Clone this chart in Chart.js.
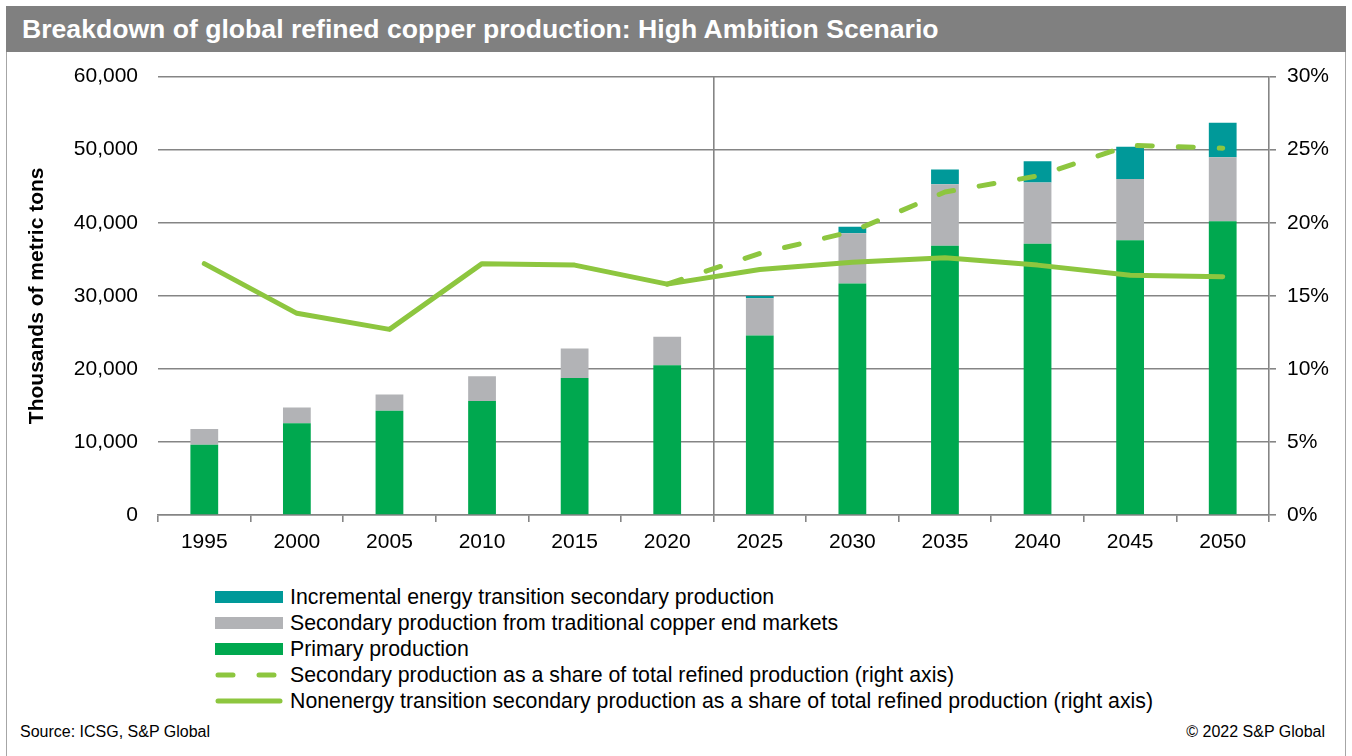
<!DOCTYPE html>
<html>
<head>
<meta charset="utf-8">
<script src="https://cdn.jsdelivr.net/npm/chart.js@4.4.1/dist/chart.umd.min.js"></script>
<style>
  html, body { margin: 0; padding: 0; background: #fff; }
  body { width: 1352px; height: 756px; position: relative; overflow: hidden;
         font-family: Arial, "Liberation Sans", sans-serif; color: #000; }
  #frame { position: absolute; left: 6px; top: 6px; width: 1338px; height: 760px;
           border-left: 1px solid #a6a6a6; border-right: 1px solid #a6a6a6; }
  #titleBar { position: absolute; left: 6px; top: 6px; width: 1340px; height: 46px; z-index: 2;
              background: #808080; color: #fff; font-weight: bold; font-size: 26.6px;
              line-height: 46px; box-sizing: border-box; padding-left: 16px; white-space: nowrap; }
  #chartBox { position: absolute; left: 0; top: 44px; width: 1352px; height: 528px; }
  #legend { position: absolute; left: 215px; top: 584px; font-size: 21.3px; }
  .row { height: 26px; line-height: 26px; display: flex; align-items: center; white-space: nowrap; }
  .row svg { width: 68px; height: 14px; margin-right: 7px; flex: none; }
  .foot { position: absolute; top: 722px; font-size: 16px; line-height: 20px; }
</style>
</head>
<body>
<div id="frame"></div>
<div id="titleBar">Breakdown of global refined copper production: High Ambition Scenario</div>
<div id="chartBox"><canvas id="copperChart" width="1352" height="528"></canvas></div>
<div id="legend"></div>
<div class="foot" style="left:20px">Source: ICSG, S&amp;P Global</div>
<div class="foot" style="right:27px">&copy; 2022 S&amp;P Global</div>

<script>
// ---- data (thousands of metric tons / percent) ----
const years = ['1995', '2000', '2005', '2010', '2015', '2020', '2025', '2030', '2035', '2040', '2045', '2050'];
const primaryProduction = [9600, 12550, 14270, 15600, 18750, 20500, 24570, 31700, 36860, 37130, 37600, 40200];
const secondaryTraditional = [2170, 2150, 2230, 3400, 4050, 3900, 5080, 6850, 8400, 8370, 8400, 8770];
const incrementalTransition = [null, null, null, null, null, null, 320, 900, 2040, 2900, 4400, 4730];
const secondaryShare = [null, null, null, null, null, 15.8, 17.9, 19.4, 22.1, 23.2, 25.3, 25.1];
const nonEnergyShare = [17.2, 13.8, 12.7, 17.2, 17.1, 15.8, 16.8, 17.3, 17.6, 17.1, 16.4, 16.3];

const GREEN = '#00a84f';
const GREY = '#b2b3b6';
const TEAL = '#009999';
const LIME = '#8dc63f';
const AXIS = '#858585';
const FONT = 'Arial, "Liberation Sans", sans-serif';

const datasets = [
    { type: 'bar', label: 'Primary production', data: primaryProduction,
      backgroundColor: GREEN, stack: 'prod', yAxisID: 'y', order: 2 },
    { type: 'bar', label: 'Secondary production from traditional copper end markets', data: secondaryTraditional,
      backgroundColor: GREY, stack: 'prod', yAxisID: 'y', order: 2 },
    { type: 'bar', label: 'Incremental energy transition secondary production', data: incrementalTransition,
      backgroundColor: TEAL, stack: 'prod', yAxisID: 'y', order: 2 },
    { type: 'line', label: 'Secondary production as a share of total refined production (right axis)', data: secondaryShare,
      borderColor: LIME, borderWidth: 5, borderDash: [15, 26], borderCapStyle: 'round', borderJoinStyle: 'round',
      pointRadius: 0, yAxisID: 'y1', order: 1, tension: 0, spanGaps: false },
    { type: 'line', label: 'Nonenergy transition secondary production as a share of total refined production (right axis)', data: nonEnergyShare,
      borderColor: LIME, borderWidth: 5, borderCapStyle: 'round', borderJoinStyle: 'round',
      pointRadius: 0, yAxisID: 'y1', order: 0, tension: 0 }
];

const tickFont = { family: FONT, size: 21 };

const chart = new Chart(document.getElementById('copperChart'), {
    data: { labels: years, datasets: datasets },
    options: {
        responsive: false,
        animation: false,
        layout: { padding: { top: 15, left: 0, right: 0, bottom: 0 } },
        plugins: { legend: { display: false }, tooltip: { enabled: false } },
        datasets: { bar: { barPercentage: 0.3, categoryPercentage: 1 } },
        scales: {
            x: {
                stacked: true,
                grid: {
                    offset: true,
                    color: ctx => ctx.index === 6 ? AXIS : 'rgba(0,0,0,0)',
                    lineWidth: 1.6,
                    tickColor: AXIS,
                    tickLength: 7,
                    drawTicks: true
                },
                border: { display: true, color: AXIS, width: 1.6 },
                ticks: { color: '#000', font: tickFont, padding: 8, maxRotation: 0 },
                afterFit: s => { s.height = 57; }
            },
            y: {
                stacked: true,
                min: 0, max: 60000,
                grid: { color: AXIS, lineWidth: 1.6, drawTicks: false },
                border: { display: false },
                ticks: { stepSize: 10000, color: '#000', font: tickFont, padding: 20,
                         callback: v => v.toLocaleString('en-US') },
                title: { display: true, text: 'Thousands of metric tons', color: '#000',
                         font: { family: FONT, size: 21, weight: 'bold' }, padding: { top: 25, bottom: 0 } },
                afterFit: s => { s.width = 158; }
            },
            y1: {
                position: 'right',
                min: 0, max: 30,
                grid: { drawOnChartArea: false, color: AXIS, lineWidth: 1.6, tickLength: 7 },
                border: { display: true, color: AXIS, width: 1.6 },
                ticks: { stepSize: 5, color: '#000', font: tickFont, padding: 11,
                         callback: v => v + '%' },
                afterFit: s => { s.width = 83; }
            }
        }
    }
});

// legend built from the chart's datasets, stacked top-down like the bars
const legendOrder = [2, 1, 0, 3, 4];
const legendBox = document.getElementById('legend');
legendOrder.forEach(i => {
    const ds = chart.data.datasets[i];
    let swatch;
    if (ds.type === 'bar') {
        swatch = `<svg viewBox="0 0 68 14"><rect x="0" y="1" width="68" height="12" fill="${ds.backgroundColor}"/></svg>`;
    } else {
        const dash = ds.borderDash ? `stroke-dasharray="${ds.borderDash.join(' ')}"` : '';
        swatch = `<svg viewBox="0 0 68 14"><line x1="3" y1="7" x2="65" y2="7" stroke="${ds.borderColor}" stroke-width="5" stroke-linecap="round" ${dash}/></svg>`;
    }
    const row = document.createElement('div');
    row.className = 'row';
    row.innerHTML = swatch + '<span>' + ds.label + '</span>';
    legendBox.appendChild(row);
});
</script>
</body>
</html>
